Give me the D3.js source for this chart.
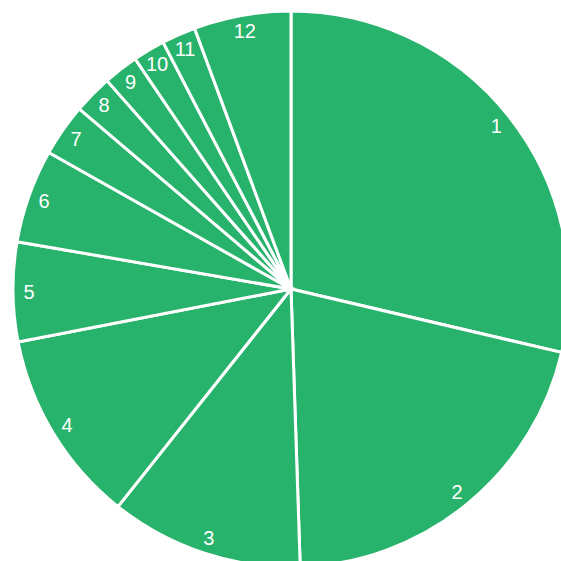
<!DOCTYPE html>
<html>
<head>
<meta charset="utf-8">
<script src="https://cdn.jsdelivr.net/npm/d3@7"></script>
<style>
  html, body { margin: 0; padding: 0; background: #fff; }
  svg { display: block; }
</style>
</head>
<body>
<svg id="chart" width="561" height="561"></svg>
<script>
const labels = ["1", "2", "3", "4", "5", "6", "7", "8", "9", "10", "11", "12"];
const values = [103.2, 74.9, 40.4, 40.5, 20.8, 19.6, 11.0, 8.15, 7.35, 6.7, 7.1, 20.3];

const data = labels.map((l, i) => ({ label: l, value: values[i] }));

const cx = 291, cy = 289, r = 278, labelR = 262;
const svg = d3.select("#chart");
const g = svg.append("g").attr("transform", `translate(${cx},${cy})`);

const pie = d3.pie().sort(null).value(d => d.value);
const arc = d3.arc().innerRadius(0).outerRadius(r);
const labelArc = d3.arc().innerRadius(labelR).outerRadius(labelR);

const arcs = pie(data);

g.selectAll("path.slice")
  .data(arcs)
  .join("path")
  .attr("class", "slice")
  .attr("d", arc)
  .attr("fill", "#27b36b")
  .attr("stroke", "#ffffff")
  .attr("stroke-width", 3)
  .attr("stroke-linejoin", "miter");

g.selectAll("text.lbl")
  .data(arcs)
  .join("text")
  .attr("class", "lbl")
  .attr("transform", d => `translate(${labelArc.centroid(d)})`)
  .attr("text-anchor", "middle")
  .attr("dominant-baseline", "central")
  .attr("fill", "#ffffff")
  .attr("font-family", "'Liberation Sans', Arial, sans-serif")
  .attr("font-size", 20)
  .text(d => d.data.label);
</script>
</body>
</html>
